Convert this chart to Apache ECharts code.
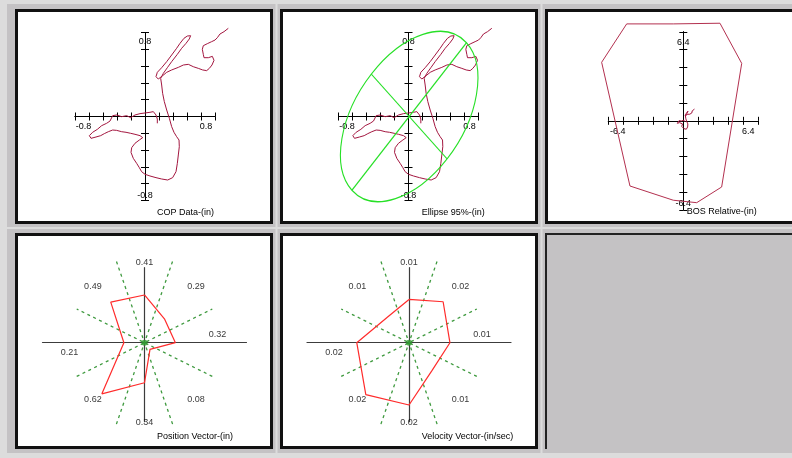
<!DOCTYPE html>
<html>
<head>
<meta charset="utf-8">
<script src="https://cdn.jsdelivr.net/npm/echarts@6/dist/echarts.min.js"></script>
<style>
html, body { margin: 0; padding: 0; background: #dcdcdc; }
#main { width: 792px; height: 458px; }
</style>
</head>
<body>
<div id="main"></div>
<script>
// COP trace, inches
const copTrace = [
  [1.190, 1.050], [1.129, 1.010], [1.071, 0.982], [1.033, 0.938], [1.000, 0.910],
  [0.952, 0.891], [0.890, 0.867], [0.833, 0.843], [0.819, 0.800], [0.833, 0.740],
  [0.843, 0.700], [0.905, 0.700], [0.962, 0.716], [0.986, 0.669], [0.957, 0.613],
  [0.919, 0.573], [0.881, 0.546], [0.824, 0.554], [0.762, 0.573], [0.690, 0.593],
  [0.619, 0.621], [0.548, 0.613], [0.476, 0.585], [0.381, 0.554], [0.310, 0.526],
  [0.252, 0.486], [0.190, 0.446], [0.157, 0.474], [0.176, 0.526], [0.238, 0.581],
  [0.310, 0.653], [0.381, 0.732], [0.452, 0.812], [0.500, 0.871], [0.557, 0.931],
  [0.605, 0.958], [0.652, 0.962], [0.633, 0.923], [0.586, 0.871], [0.524, 0.812],
  [0.462, 0.740], [0.381, 0.653], [0.319, 0.581], [0.262, 0.514], [0.224, 0.454],
  [0.238, 0.375], [0.252, 0.276], [0.276, 0.177], [0.310, 0.077], [0.348, -0.022],
  [0.381, -0.121], [0.414, -0.188], [0.452, -0.240], [0.486, -0.280], [0.490, -0.359],
  [0.476, -0.458], [0.462, -0.558], [0.443, -0.657], [0.395, -0.728], [0.324, -0.756],
  [0.238, -0.744], [0.157, -0.728], [0.071, -0.708], [0.000, -0.688], [-0.048, -0.657],
  [-0.081, -0.609], [-0.119, -0.558], [-0.167, -0.498], [-0.200, -0.427], [-0.190, -0.371],
  [-0.143, -0.319], [-0.081, -0.280], [-0.033, -0.252], [-0.071, -0.228], [-0.143, -0.212],
  [-0.205, -0.200], [-0.271, -0.188], [-0.333, -0.181], [-0.405, -0.165], [-0.462, -0.161],
  [-0.524, -0.181], [-0.581, -0.204], [-0.633, -0.228], [-0.700, -0.244], [-0.771, -0.260],
  [-0.795, -0.228], [-0.748, -0.188], [-0.681, -0.153], [-0.619, -0.109], [-0.548, -0.081],
  [-0.500, -0.054], [-0.462, 0.010], [-0.405, 0.018], [-0.333, -0.002], [-0.262, 0.010],
  [-0.205, -0.014], [-0.143, 0.018], [-0.071, 0.034], [0.000, 0.042], [0.071, 0.050],
  [0.119, 0.058], [0.157, 0.018], [0.176, -0.030], [0.176, -0.081]
];

// base of support outline, inches
const bosOutline = [
  [-6.04, 8.71], [-1.07, 8.71], [3.91, 8.77], [6.23, 5.16], [4.09, -5.95],
  [1.43, -7.36], [-1.07, -7.14], [-5.69, -5.86], [-8.71, 5.26], [-6.04, 8.71]
];

// 95% ellipse: centre x, centre y, semi-major, semi-minor, angle (deg)
const ellipse95 = [0.01, 0.0, 1.20, 0.74, 47];

// vector panels: top, upper-right, right, lower-right, bottom, lower-left, left, upper-left
const vectorAngles = [90, 45, 0, -45, -90, -135, 180, 135];
const positionVector = [0.409, 0.29, 0.318, 0.08, 0.343, 0.62, 0.212, 0.491];
const velocityVector = [0.0118, 0.0158, 0.0134, 0.0107, 0.0170, 0.0200, 0.0171, 0.0099];
const sectorEdges = [22.5, 67.5, 112.5, 157.5];

const FONT = "'Liberation Sans', Arial, sans-serif";
const FS = 9;
const TRACE = '#a3163f';
const rad = d => d * Math.PI / 180;

const chart = echarts.init(document.getElementById('main'));
const grids = [], xAxes = [], yAxes = [], series = [];

function txt(extra) {
   return Object.assign({ fontSize: FS, fontFamily: FONT, color: '#000' }, extra);
}

function addGrid(left, top, width, height) {
   grids.push({ left, top, width, height, containLabel: false, outerBoundsMode: 'none' });
   return grids.length - 1;
}

// hidden axes on a larger twin grid so marks past the drawn axes are kept
function dataGrid(cx, cy, halfW, up, down, pxX, pxY) {
   const d = addGrid(cx - halfW, cy - up, 2 * halfW, up + down);
   const xi = xAxes.length, yi = yAxes.length;
   xAxes.push({ type: 'value', gridIndex: d, min: -halfW / pxX, max: halfW / pxX, show: false, splitLine: { show: false } });
   yAxes.push({ type: 'value', gridIndex: d, min: -down / pxY, max: up / pxY, show: false, splitLine: { show: false } });
   return { xi, yi };
}

// cross of axes with ticks on both sides
function crossPanel(cx, cy, halfW, halfH, range, step, labelAt, padW, padH) {
   const g = addGrid(cx - halfW, cy - halfH, 2 * halfW, 2 * halfH);
   const isLab = v => Math.abs(Math.abs(v) - labelAt) < 1e-6;
   const base = (pos, off) => ({
      type: 'value', gridIndex: g, min: -range, max: range, interval: step,
      position: pos, offset: off,
      splitLine: { show: false },
      axisLine: { onZero: false, lineStyle: { color: '#000', width: 1 } },
      axisTick: { show: true, length: 4, lineStyle: { color: '#000', width: 1 } },
      axisLabel: { show: false }
   });
   const xb = base('bottom', -halfH);
   xb.axisLabel = {
      show: true, interval: 0, margin: 6,
      formatter: v => isLab(v) ? (v < 0 ? '{n|' + v.toFixed(1) + '}' : '{p|' + v.toFixed(1) + '}') : '',
      rich: { n: txt({ padding: [0, 11, 0, 0] }), p: txt({ padding: [0, 0, 0, 10] }) }
   };
   xAxes.push(xb, base('top', -halfH));
   const yl = base('left', -halfW);
   yl.axisLabel = {
      show: true, interval: 0, margin: 0, align: 'center',
      formatter: v => isLab(v) ? (v > 0 ? '{t|' + v.toFixed(1) + '}' : '{b|' + v.toFixed(1) + '}') : '',
      rich: { t: txt({ padding: [0, 0, 15, 0] }), b: txt({ padding: [24, 0, 0, 0] }) }
   };
   yAxes.push(yl, base('right', -halfW));
   return dataGrid(cx, cy, halfW + padW, halfH + padH, halfH + padH, halfW / range, halfH / range);
}

function traceSeries(p, data, color, width) {
   return {
      type: 'line', xAxisIndex: p.xi, yAxisIndex: p.yi, data: data, symbol: 'none',
      clip: false, silent: true, lineStyle: { color: color, width: width }, z: 4
   };
}

// polar-style vector panel drawn on a stretched cartesian grid
function vectorPanel(cx, cy, unit, values) {
   const pxX = 97.2 / unit, pxY = 116.7 / unit;
   const g = addGrid(cx - 102, cy - 75, 204, 154);
   const axis = (min, max) => ({
      type: 'value', gridIndex: g, min: min, max: max,
      splitLine: { show: false }, axisTick: { show: false }, axisLabel: { show: false },
      axisLine: { onZero: true, lineStyle: { color: '#3c3c3c', width: 1.2 } }
   });
   xAxes.push(axis(-102 / pxX, 102 / pxX));
   yAxes.push(axis(-79 / pxY, 75 / pxY));
   const p = dataGrid(cx, cy, 125, 100, 100, pxX, pxY);

   const R = 0.755 * unit;
   series.push({
      type: 'lines', coordinateSystem: 'cartesian2d', xAxisIndex: p.xi, yAxisIndex: p.yi,
      silent: true, z: 3,
      lineStyle: { color: '#3f9a3f', width: 1.3, type: [3, 3.5], opacity: 1 },
      data: sectorEdges.map(a => ({
         coords: [[-R * Math.cos(rad(a)), -R * Math.sin(rad(a))], [R * Math.cos(rad(a)), R * Math.sin(rad(a))]]
      }))
   });
   const pts = values.map((v, i) => [v * Math.cos(rad(vectorAngles[i])), v * Math.sin(rad(vectorAngles[i]))]);
   pts.push(pts[0]);
   series.push({
      type: 'line', xAxisIndex: p.xi, yAxisIndex: p.yi, data: pts, symbol: 'none', silent: true,
      clip: false, z: 4, lineStyle: { color: '#ff2b2b', width: 1.2 }
   });
   series.push({
      type: 'scatter', xAxisIndex: p.xi, yAxisIndex: p.yi, data: [[0, 0]], symbolSize: 6, silent: true,
      z: 5, itemStyle: { color: '#2f9a2f' }
   });
   const Rx = 73 / pxX, Ry = 80 / pxY;
   series.push({
      type: 'scatter', xAxisIndex: p.xi, yAxisIndex: p.yi, symbolSize: 1, silent: true, z: 5,
      itemStyle: { color: 'transparent' },
      data: values.map((v, i) => {
         const a = vectorAngles[i];
         const off = a === 0 ? [0, -8] : (a === 180 ? [-2, 10] : [0, 0]);
         return {
            value: [Math.cos(rad(a)) * Rx, Math.sin(rad(a)) * Ry],
            label: txt({ show: true, position: 'inside', offset: off, formatter: v.toFixed(2) })
         };
      })
   });
}

const p1 = crossPanel(145, 116.5, 70, 84, 1, 0.2, 0.8, 52, 20);
const p2 = crossPanel(408.5, 116.5, 70, 84, 1, 0.2, 0.8, 52, 20);
const p3 = crossPanel(683.3, 120.8, 75, 89, 8, 1.6, 6.4, 52, 16);

series.push(traceSeries(p1, copTrace, TRACE, 1));
series.push(traceSeries(p2, copTrace, TRACE, 1));
series.push({
   type: 'custom', xAxisIndex: p2.xi, yAxisIndex: p2.yi, data: [ellipse95], silent: true, z: 5,
   encode: { x: 0, y: 1 },
   renderItem: function (params, api) {
      const c = api.coord([api.value(0), api.value(1)]);
      const s = api.size([1, 1]);
      const a = api.value(2), b = api.value(3), phi = rad(api.value(4));
      const st = { stroke: '#27e027', fill: 'none', lineWidth: 1.2, strokeNoScale: true };
      return {
         type: 'group', x: c[0], y: c[1], scaleX: s[0], scaleY: -s[1],
         children: [{
            type: 'group', rotation: -phi,
            children: [
               { type: 'ellipse', shape: { cx: 0, cy: 0, rx: a, ry: b }, style: st },
               { type: 'line', shape: { x1: -a, y1: 0, x2: a, y2: 0 }, style: st },
               { type: 'line', shape: { x1: 0, y1: -b, x2: 0, y2: b }, style: st }
            ]
         }]
      };
   }
});
series.push(traceSeries(p3, bosOutline, '#b3304f', 1));
series.push(traceSeries(p3, copTrace, TRACE, 1));

vectorPanel(144.5, 342.7, 1, positionVector);
vectorPanel(409, 342.7, 116.7 / 3667, velocityVector);

// panel frames
const frame = (x, y, w, h) => ({
   type: 'rect', z: -1, silent: true, shape: { x: x + 1.5, y: y + 1.5, width: w - 3, height: h - 3 },
   style: { fill: '#ffffff', stroke: '#111111', lineWidth: 3 }
});
const cell = (x, y, w, h) => ({
   type: 'rect', z: -2, silent: true, shape: { x: x, y: y, width: w, height: h },
   style: { fill: '#c4c2c4' }
});
const graphic = [
   cell(7, 4, 268.5, 223), cell(277.5, 4, 263, 223), cell(542.5, 4, 260, 223),
   cell(7, 229, 268.5, 224), cell(277.5, 229, 263, 224), cell(542.5, 229, 260, 224),
   frame(15, 9, 258, 215), frame(280, 9, 258, 215), frame(545, 9, 262, 215),
   frame(15, 233, 258, 216), frame(280, 233, 258, 216),
   { type: 'polyline', z: -1, silent: true, shape: { points: [[546, 449], [546, 234], [800, 234]] },
     style: { stroke: '#222222', lineWidth: 2, fill: 'none' } }
];

const titles = [
   ['COP Data-(in)', 157, 208], ['Ellipse 95%-(in)', 421.7, 208], ['BOS Relative-(in)', 686.7, 207.5],
   ['Position Vector-(in)', 157, 432.5], ['Velocity Vector-(in/sec)', 421.7, 432]
].map(t => ({ text: t[0], left: t[1], top: t[2], padding: 0,
   textStyle: { fontSize: FS, fontWeight: 'normal', fontFamily: FONT, color: '#000' } }));

chart.setOption({
   animation: false,
   backgroundColor: '#dcdcdc',
   textStyle: { fontFamily: FONT },
   title: titles,
   graphic: graphic,
   grid: grids,
   xAxis: xAxes,
   yAxis: yAxes,
   series: series
});
</script>
</body>
</html>
